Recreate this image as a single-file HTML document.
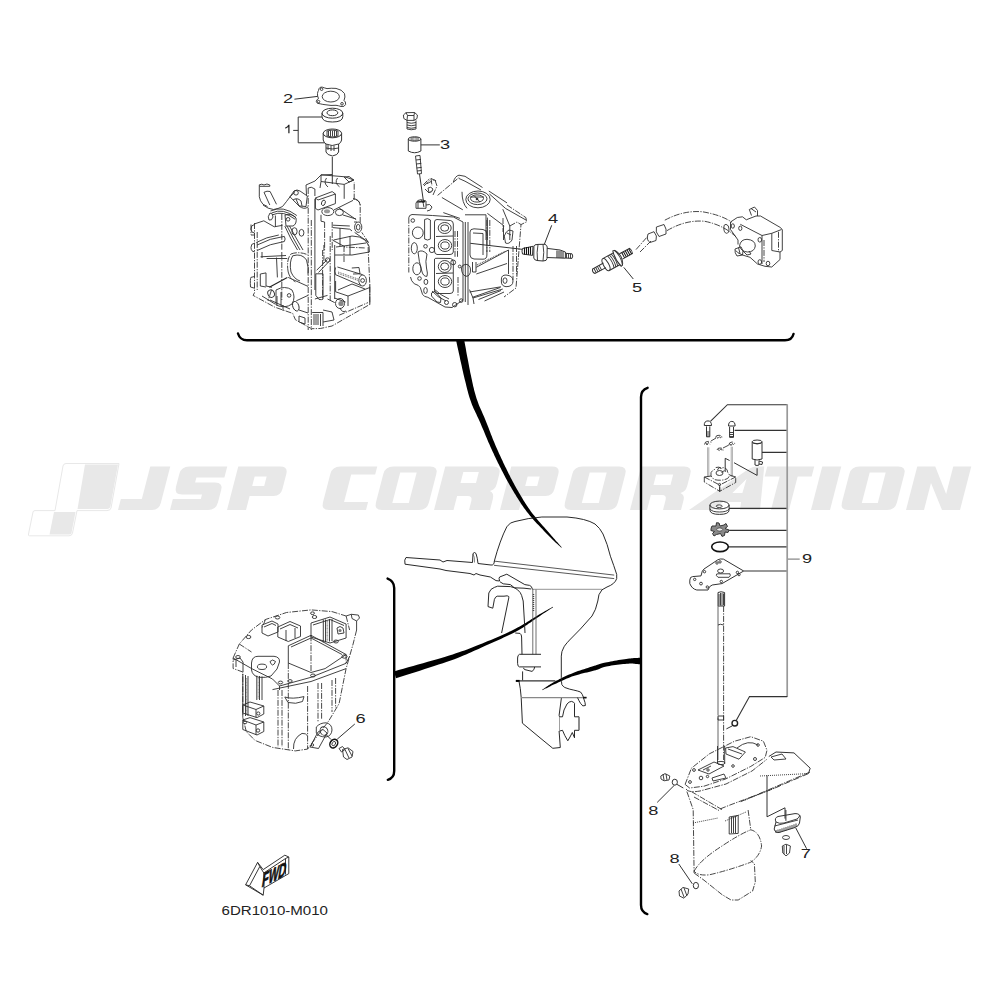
<!DOCTYPE html>
<html><head><meta charset="utf-8">
<style>
html,body{margin:0;padding:0;background:#fff;width:1000px;height:1000px;overflow:hidden}
svg{position:absolute;left:0;top:0;display:block}
.k{fill:none;stroke:#000;stroke-width:2.4;stroke-linecap:round}
.l{fill:none;stroke:#333;stroke-width:1}
.g{fill:none;stroke:#555;stroke-width:0.9}
.d{fill:none;stroke:#333;stroke-width:0.9;stroke-dasharray:6 1.3 1.3 1.3}
.a{fill:none;stroke:#2e2e2e;stroke-width:0.9}
.t{font-family:"Liberation Sans",sans-serif;font-size:13.5px;fill:#222}
.wm{fill:#e8e8e8}
</style></head>
<body>
<svg width="1000" height="1000" viewBox="0 0 1000 1000">
<!-- WATERMARK -->
<g id="wm">
  <path d="M66,463.5 L119,463.5 L111,508 Q110.5,510.6 107,510.6 L77,510.6 L72.5,533 Q72,535.8 69,535.8 L29.5,535.8 Q28,535.8 28.5,534 L33,512 Q33.4,510.6 35,510.6 L55,510.6 L63,466 Q63.6,463.5 66,463.5 Z" fill="none" stroke="#e8e8e8" stroke-width="1"/>
  <path class="wm" d="M85,464.5 L118,464.5 L110.5,506 Q110,509 107,509 L77.5,509 Z"/>
  <path class="wm" d="M54,512 L75.5,512 L71.5,533 Q71,534.5 69,534.5 L49.5,534.5 Z"/>
  <g class="wm" fill-rule="evenodd" transform="matrix(1,0,-0.2586,1,0,510)">
  <path d="M139,-43.5 H159 V-7 Q159,0 152,0 H118 V-11 H139 Z"/>
  <path d="M216,-43.5 H178 Q170,-43.5 170,-36 V-23 Q170,-15.5 178,-15.5 H198 V-11 H170 V0 H208 Q216,0 216,-8 V-20 Q216,-27.5 208,-27.5 H188 V-32.5 H216 Z"/>
  <path d="M227,0 V-43.5 H269 Q277,-43.5 277,-36 V-21 Q277,-14 270,-14 H246 V0 Z M246,-33.5 H258 V-24 H246 Z"/>
  <path d="M366,-43.5 H329 Q321,-43.5 321,-36 V-7.5 Q321,0 329,0 H366 V-8 H342 V-35.5 H366 Z"/>
  <path d="M382,-43.5 H419 Q427,-43.5 427,-36 V-7.5 Q427,0 419,0 H382 Q374,0 374,-7.5 V-36 Q374,-43.5 382,-43.5 Z M390.5,-37.5 H407 V-7 H390.5 Z"/>
  <path d="M434,0 V-43.5 H482 Q490,-43.5 490,-36 V-26 Q490,-20.5 485,-19 Q490,-17 490,-11 V0 H469 V-9 Q469,-14 464,-14 H453.5 V0 Z M453.5,-38 H469 V-27 H453.5 Z"/>
  <path d="M500,0 V-43.5 H541 Q549,-43.5 549,-36 V-21 Q549,-14 542,-14 H519 V0 Z M519,-33.5 H531 V-24 H519 Z"/>
  <path d="M571,-43.5 H608 Q616,-43.5 616,-36 V-7.5 Q616,0 608,0 H571 Q563,0 563,-7.5 V-36 Q563,-43.5 571,-43.5 Z M580,-37.5 H597 V-7 H580 Z"/>
  <path d="M630,0 V-43.5 H673 Q681,-43.5 681,-36 V-24 Q681,-18.5 676,-17 Q681,-15 681,-10 V0 H663 V-10 Q663,-15 658,-15 H647 V0 Z M647,-35.5 H664 V-25 H647 Z"/>
  <path d="M689,0 L738,-41 Q741,-43.5 745,-43.5 H753 L760,0 H740 L739,-8 H721 L712,0 Z M738,-17 L738.5,-31 L728,-17 Z"/>
  <path d="M756,-43.5 H803 V-33.5 H789 V0 H771 V-33.5 H756 Z"/>
  <path d="M811,0 V-43.5 H830 V0 Z"/>
  <path d="M848,-43.5 H887 Q895,-43.5 895,-36 V-7.5 Q895,0 887,0 H848 Q840,0 840,-7.5 V-36 Q840,-43.5 848,-43.5 Z M860,-37.5 H876 V-7 H860 Z"/>
  <path d="M906,0 V-43.5 H924 L942,-16 V-43.5 H960 V0 H942 L924,-27 V0 Z"/>
</g>
</g>
<!-- BIG BRACKETS -->
<path class="k" d="M238,333.5 Q240,340.3 247,340.3 L785,340.3 Q792,340.3 793.5,334"/>
<path class="k" d="M647.6,387.8 Q641,390 641,397 L641,905 Q641,912 647.3,914.1"/>
<path class="k" d="M387.6,578.6 Q394.2,581 394.2,588 L394.2,771 Q394.2,778 387.8,779.8"/>
<!-- tapered connectors -->
<path fill="#000" d="M456.2,340.8 L456.8,343.8 L457.5,346.9 L458.2,350.0 L458.9,353.2 L459.6,356.3 L460.2,359.5 L460.9,362.6 L461.6,365.6 L462.2,368.6 L462.9,371.4 L463.5,374.2 L464.1,376.8 L464.7,379.2 L465.3,381.5 L465.8,383.6 L466.3,385.7 L466.8,387.7 L467.3,389.7 L467.8,391.6 L468.3,393.5 L468.8,395.3 L469.4,397.2 L470.0,399.1 L470.7,401.0 L471.4,403.0 L472.1,404.9 L472.9,406.8 L473.7,408.7 L474.6,410.5 L475.4,412.3 L476.3,414.1 L477.1,415.9 L478.0,417.7 L478.8,419.5 L479.6,421.3 L480.4,423.1 L481.2,425.0 L482.0,426.9 L482.8,428.7 L483.6,430.6 L484.4,432.6 L485.2,434.5 L486.0,436.4 L486.8,438.3 L487.6,440.3 L488.4,442.2 L489.3,444.1 L490.1,446.0 L491.0,447.9 L491.8,449.8 L492.7,451.7 L493.6,453.6 L494.4,455.5 L495.3,457.3 L496.2,459.2 L497.1,461.1 L498.0,463.0 L499.0,464.8 L499.9,466.7 L500.9,468.6 L501.8,470.4 L502.8,472.3 L503.8,474.2 L504.7,476.1 L505.7,477.9 L506.7,479.8 L507.8,481.7 L508.8,483.6 L509.9,485.4 L511.0,487.3 L512.1,489.2 L513.2,491.1 L514.3,492.9 L515.5,494.8 L516.6,496.7 L517.8,498.5 L519.0,500.4 L520.2,502.3 L521.4,504.2 L522.7,506.0 L524.0,507.9 L525.4,509.8 L526.8,511.7 L528.3,513.5 L529.8,515.4 L531.5,517.4 L533.2,519.4 L535.0,521.4 L536.8,523.4 L538.7,525.3 L540.5,527.3 L542.3,529.1 L544.0,530.9 L545.7,532.7 L547.2,534.3 L548.7,535.7 L550.0,537.1 L551.2,538.3 L552.4,539.5 L553.5,540.5 L554.5,541.5 L555.5,542.4 L556.4,543.2 L557.4,544.1 L558.3,545.0 L559.3,545.8 L560.3,546.7 L561.3,547.7 L561.7,547.3 L560.8,546.2 L559.9,545.2 L559.0,544.3 L558.2,543.3 L557.4,542.3 L556.5,541.4 L555.6,540.4 L554.7,539.3 L553.7,538.2 L552.7,537.0 L551.5,535.7 L550.3,534.3 L549.0,532.7 L547.5,531.0 L545.9,529.2 L544.2,527.3 L542.5,525.4 L540.8,523.4 L539.0,521.4 L537.3,519.4 L535.6,517.3 L533.9,515.3 L532.4,513.4 L530.9,511.5 L529.6,509.6 L528.3,507.7 L527.0,505.8 L525.8,504.0 L524.6,502.1 L523.4,500.2 L522.3,498.3 L521.2,496.5 L520.1,494.6 L519.0,492.7 L517.9,490.8 L516.8,488.9 L515.7,487.1 L514.7,485.2 L513.7,483.3 L512.7,481.4 L511.7,479.6 L510.7,477.7 L509.8,475.8 L508.8,473.9 L507.9,472.1 L507.0,470.2 L506.1,468.3 L505.1,466.4 L504.2,464.6 L503.3,462.7 L502.5,460.8 L501.6,459.0 L500.7,457.1 L499.9,455.2 L499.0,453.4 L498.2,451.5 L497.3,449.6 L496.5,447.7 L495.7,445.9 L494.9,444.0 L494.1,442.1 L493.3,440.2 L492.5,438.2 L491.8,436.3 L491.0,434.4 L490.3,432.5 L489.5,430.5 L488.8,428.6 L488.0,426.6 L487.3,424.7 L486.5,422.8 L485.8,420.9 L485.0,419.0 L484.2,417.1 L483.4,415.2 L482.6,413.4 L481.8,411.6 L481.0,409.8 L480.2,408.0 L479.4,406.2 L478.7,404.4 L478.0,402.6 L477.4,400.8 L476.7,399.0 L476.1,397.1 L475.6,395.3 L475.1,393.5 L474.6,391.7 L474.1,389.9 L473.7,388.1 L473.2,386.2 L472.8,384.2 L472.3,382.1 L471.9,380.0 L471.4,377.7 L470.9,375.2 L470.3,372.7 L469.8,370.0 L469.2,367.1 L468.7,364.2 L468.1,361.1 L467.5,358.0 L466.9,354.9 L466.3,351.7 L465.8,348.5 L465.2,345.4 L464.6,342.3 L464.0,339.2 Z"/>
<path fill="#000" d="M396.0,678.2 L400.7,676.8 L405.4,675.2 L410.2,673.7 L415.1,672.2 L419.9,670.7 L424.8,669.1 L429.5,667.6 L434.2,666.1 L438.6,664.6 L442.9,663.2 L447.0,661.8 L450.8,660.5 L454.4,659.2 L457.6,657.9 L460.6,656.7 L463.4,655.6 L466.1,654.5 L468.7,653.3 L471.1,652.2 L473.6,651.1 L476.0,650.0 L478.5,648.9 L481.0,647.8 L483.7,646.6 L486.4,645.3 L489.3,644.1 L492.1,642.8 L495.0,641.5 L497.9,640.2 L500.8,638.9 L503.6,637.6 L506.4,636.3 L509.1,635.0 L511.8,633.7 L514.3,632.5 L516.6,631.2 L518.9,629.9 L521.0,628.7 L523.1,627.4 L525.0,626.1 L526.9,624.9 L528.7,623.6 L530.5,622.4 L532.1,621.2 L533.8,620.1 L535.4,619.0 L536.9,617.9 L538.4,616.9 L539.9,615.9 L541.3,615.0 L542.6,614.1 L543.8,613.3 L545.1,612.5 L546.2,611.8 L547.4,611.0 L548.5,610.3 L549.6,609.6 L550.8,608.8 L552.0,608.0 L553.2,607.3 L552.8,606.7 L551.6,607.5 L550.4,608.2 L549.2,608.8 L548.0,609.5 L546.8,610.2 L545.7,610.8 L544.4,611.5 L543.2,612.3 L541.9,613.0 L540.5,613.8 L539.1,614.6 L537.6,615.5 L536.0,616.5 L534.4,617.5 L532.7,618.5 L531.0,619.6 L529.3,620.7 L527.5,621.8 L525.7,623.0 L523.8,624.1 L521.8,625.3 L519.7,626.5 L517.6,627.6 L515.4,628.8 L513.0,630.0 L510.5,631.2 L507.9,632.4 L505.2,633.7 L502.4,634.9 L499.6,636.2 L496.7,637.4 L493.8,638.7 L490.9,639.9 L488.0,641.1 L485.1,642.3 L482.3,643.4 L479.6,644.5 L477.0,645.6 L474.5,646.6 L472.1,647.5 L469.6,648.5 L467.1,649.4 L464.5,650.4 L461.8,651.3 L459.0,652.3 L455.9,653.3 L452.7,654.4 L449.2,655.5 L445.4,656.7 L441.3,657.9 L437.0,659.2 L432.4,660.5 L427.8,661.8 L423.0,663.2 L418.1,664.6 L413.2,665.9 L408.3,667.3 L403.4,668.7 L398.6,670.0 L394.0,671.4 Z"/>
<path fill="#000" d="M640.5,657.7 L639.5,657.8 L638.6,657.8 L637.7,657.9 L636.8,657.9 L635.8,658.0 L634.9,658.0 L633.9,658.1 L632.8,658.2 L631.7,658.3 L630.5,658.4 L629.2,658.5 L627.8,658.7 L626.2,658.9 L624.5,659.2 L622.6,659.5 L620.7,659.8 L618.6,660.1 L616.6,660.5 L614.5,660.8 L612.5,661.2 L610.6,661.6 L608.8,661.9 L607.1,662.2 L605.6,662.5 L604.3,662.8 L603.2,663.1 L602.2,663.3 L601.3,663.6 L600.5,663.8 L599.7,664.0 L599.0,664.3 L598.3,664.5 L597.5,664.8 L596.6,665.1 L595.6,665.4 L594.3,665.8 L592.9,666.3 L591.3,666.8 L589.6,667.3 L587.8,667.9 L585.9,668.5 L583.9,669.2 L582.0,669.8 L580.0,670.5 L578.0,671.1 L576.1,671.8 L574.2,672.5 L572.5,673.2 L570.8,673.9 L569.1,674.6 L567.4,675.3 L565.8,676.1 L564.2,676.8 L562.6,677.6 L561.0,678.4 L559.5,679.1 L558.1,679.9 L556.6,680.6 L555.3,681.3 L554.0,682.0 L552.8,682.7 L551.6,683.4 L550.6,684.0 L549.6,684.7 L548.6,685.3 L547.7,685.9 L546.8,686.5 L545.9,687.2 L545.0,687.8 L544.1,688.4 L543.2,689.0 L542.3,689.6 L542.5,690.2 L543.6,689.6 L544.6,689.1 L545.5,688.6 L546.5,688.2 L547.5,687.7 L548.4,687.2 L549.4,686.7 L550.4,686.2 L551.5,685.6 L552.6,685.1 L553.7,684.6 L555.0,684.0 L556.3,683.4 L557.7,682.7 L559.1,682.1 L560.6,681.4 L562.1,680.7 L563.7,680.0 L565.3,679.3 L566.9,678.6 L568.5,677.9 L570.2,677.2 L571.8,676.6 L573.5,676.0 L575.3,675.4 L577.1,674.9 L579.0,674.4 L581.0,673.8 L583.0,673.3 L585.0,672.8 L587.0,672.4 L588.9,671.9 L590.8,671.4 L592.5,671.0 L594.2,670.6 L595.7,670.2 L597.0,669.7 L598.1,669.4 L599.0,669.0 L599.9,668.7 L600.6,668.3 L601.3,668.0 L601.9,667.8 L602.6,667.5 L603.3,667.2 L604.2,667.0 L605.2,666.7 L606.4,666.5 L607.9,666.2 L609.5,665.9 L611.3,665.6 L613.2,665.3 L615.2,665.1 L617.2,664.8 L619.3,664.6 L621.3,664.3 L623.2,664.1 L625.0,663.9 L626.7,663.8 L628.2,663.7 L629.6,663.6 L630.8,663.6 L631.9,663.6 L632.9,663.6 L633.9,663.7 L634.8,663.8 L635.7,663.9 L636.6,664.0 L637.5,664.1 L638.5,664.2 L639.5,664.2 L640.5,664.3 Z"/>
<!-- BLOCK A: crankcase (top-left) -->
<g id="blkA">
 <path class="l" d="M332.3,157 V184"/>
 <!-- outer silhouette -->
 <path class="d" d="M254.5,223 V292.7 L253.1,295.4 L274.7,307.1 L292.7,313.4 L295.4,319.7 L311.6,328.7 L320.3,328.5 L332,326 L369.8,304.4 V284.6 L368.2,250 V242 L361.8,232.4 M360.2,222.8 V203.6 Q358,199 353,198.8 M354.2,199.6 V182"/>
 <path class="d" d="M257.2,232 V290 M251,224.5 V235 H254.4"/>
 <path class="a" d="M250.9,277.4 Q250,279 250.5,287 L254.5,288.2 M250.9,277.4 L254.5,276.5"/>
 <!-- top-left fitting -->
 <path class="a" d="M259.3,184.8 Q262,183.5 264,185 Q267,183 269.8,185 L269.8,186.3 H259.3 Z"/>
 <path class="a" d="M259.3,186.3 V196.8 Q260,201 263,204.3 L267.5,206.5 M264,192.3 L269.8,205 M270.1,191.5 L276.5,204.3 M264,192.3 Q267,190.5 270.1,191.5"/>
 <path class="a" d="M263,205 Q268,209 273.5,209.5 Q278,209 282.5,206.5 Q287,201 290,196.8 L294.5,192.3"/>
 <!-- bearing arcs -->
 <path class="a" d="M270.5,211 Q283,205 296.8,215.5 M271.5,213 Q283,207.5 296,217.5 M272.5,214.8 Q283,210 295,219.2"/>
 <path class="a" d="M270,213 Q267,217 269,220 Q272,221 273,217 Q273,213 270,213 Z"/>
 <path class="a" d="M275.4,215.5 V226.8 M254.8,223.8 L263.8,220.8 L274.3,226.8 L282.5,225.3"/>
 <path class="d" d="M281.8,214 V250 M281.8,252 V300"/>
 <path class="a" d="M256.3,242.5 Q266,237 278.8,235"/>
 <circle class="a" cx="288.1" cy="219.3" r="1.8"/>
 <path class="a" d="M285,215 Q292,213 296,218 Q297,224 293,226 L286,226 Z"/>
 <ellipse class="a" cx="294.5" cy="231.3" rx="2.6" ry="3.6"/>
 <ellipse class="a" cx="301.5" cy="232.8" rx="2.4" ry="3.4"/>
 <path class="a" d="M284.8,226 Q290,238 297.5,250 M287,226 Q293,238 300,250 M289.5,226 Q296,238 303,250"/>
 <!-- intake parts top middle -->
 <path class="a" d="M290,196.8 L294,191 Q297,189 300,191 L307.3,196 L306,206.5 L299,206 Z"/>
 <circle class="a" cx="296" cy="192.8" r="2.3"/>
 <path class="a" d="M293,200 Q297,197 301,201 L302,206 M296,199 L299,206"/>
 <path class="a" d="M299,206 Q304,210 308,207"/>
 <path class="a" d="M306,185 L315,181 L321,175 L332,174.5 M306,185 L306.5,195"/>
 <!-- thermostat housing -->
 <path class="a" d="M321,174.8 L345,176.8 L353.8,180 L344.2,184.4 L321,181.5 Z"/>
 <path class="a" d="M326.5,178 Q323,183 328,187 M337.5,178 Q334,183 339.5,186.8"/>
 <path class="a" d="M344.2,177.2 L349,176.5 L353.8,180 L349,182 Z"/>
 <path class="a" d="M344.2,184.4 V198.8 M321,181.5 L320,188"/>
 <!-- tab plate -->
 <path class="a" d="M315.4,198 L332.2,191.6 L335.4,194 V203.6 L318,210 L315.4,208.4 Z"/>
 <ellipse class="a" cx="323.4" cy="202.8" rx="1.8" ry="2.8" transform="rotate(20 323.4 202.8)"/>
 <path class="a" d="M315.4,198 L318,200 L335.4,194"/>
 <ellipse class="a" cx="327.8" cy="211.6" rx="6" ry="4"/>
 <ellipse cx="327" cy="211.2" rx="3" ry="2" fill="#999"/>
 <ellipse class="a" cx="339.4" cy="212.4" rx="4" ry="3.2"/>
 <path class="a" d="M333.8,210 L353,200.4 M338.6,207.6 L356.2,219.6 M343,215 L356,219"/>
 <path class="a" d="M353,198.8 Q359,199 360.2,205"/>
 <ellipse class="a" cx="358.2" cy="227.2" rx="3.6" ry="5.2"/>
 <ellipse class="a" cx="358.2" cy="227.2" rx="1.8" ry="2.8"/>
 <path class="a" d="M354.6,232.4 L368.2,242 M354,222 L357,222"/>
 <path class="a" d="M321,214.8 V221.2 L324.6,222 M333,225.2 L349.8,226 M333,227.6 L349.8,229.2 L352,231"/>
 <path class="a" d="M333,240.4 L345,246.8 M340,228 V246"/>
 <path class="d" d="M324.6,222 V250 M332.2,222 V250"/>
 <!-- crank -->
 <path class="d" d="M308.2,188 V330 M311.3,220 V330"/>
 <path class="a" d="M314.9,199 V290 M308.2,188 Q311,186 314.9,189 V196"/>
 <path class="d" d="M323.9,245 V263"/>
 <path class="a" d="M334.7,245 V299"/>
 <!-- pipe lever -->
 <path class="a" d="M316.7,270.2 L327.5,259.4 M318.5,272.5 L329,261.5"/>
 <circle class="a" cx="327.6" cy="260" r="2.2"/>
 <path class="a" d="M315.8,273.8 H323 V299 Q322,300 319,299.5 L315.8,295.4 Z"/>
 <path class="a" d="M314.9,299 L327.5,295.4 M327.5,299 L334.7,302.6"/>
 <!-- right roller -->
 <path class="a" d="M337.4,267 L362.6,274.7 M335.6,274.7 L360.8,285.5 M335.6,267.5 Q334,271 335.6,274.7"/>
 <ellipse class="a" cx="362.6" cy="280.5" rx="3.8" ry="5.5"/>
 <circle class="a" cx="362.6" cy="280.5" r="1.9"/>
 <path d="M338,272 L358,279 M338,273.5 L358,280.5" stroke="#666" stroke-width="1" stroke-dasharray="1 0.8"/>
 <path class="a" d="M351.8,268 L359,267.5 L360,273.8 L353,274"/>
 <path class="a" d="M335.6,281 V291.8 L348,296 L369.8,287.5 M369.8,284.6 V304.4 M348,296 V306"/>
 <path class="d" d="M339.2,315.2 L368,302.6 M344,262 L344,247 L366,248"/>
 <ellipse class="a" cx="340" cy="303.5" rx="4.5" ry="5"/>
 <circle cx="341" cy="303.5" r="2.6" fill="#888"/>
 <path class="a" d="M334.7,298.1 L345.5,302 M340,308 Q342,313 346,311"/>
 <path class="a" d="M312.2,312.5 L323,312.5 V326 M314,314 V325 M316,314 V325 M318,314 V325 M320.5,314 V326"/>
 <path class="a" d="M323,310 L332,312 L334,320 L323,322"/>
 <!-- lower-left: bore, crank web -->
 <path class="d" d="M290.9,254 Q299,251 308,254.9 M288.2,272 Q286,260 290.9,254 M288.2,272 Q290,279 295.4,281.9"/>
 <path class="a" d="M292.7,255.8 Q302,253 306.5,260 Q309,268 308,274.7 M292.7,255.8 Q289,262 291,272 Q294,279 300,281"/>
 <path class="a" d="M266.6,258.5 H287.3 M276.5,257.6 L277.4,277.4"/>
 <path class="a" d="M260.3,274 L266,272.9 L266,286 L272,287.3 M260.3,274 V286 L266,287"/>
 <path d="M269.3,287.3 L287.3,277.4" stroke="#222" stroke-width="1.1"/>
 <ellipse class="a" cx="271.1" cy="293.6" rx="3.2" ry="3.8" transform="rotate(-25 271.1 293.6)"/>
 <path class="a" d="M276,290 Q285,285 292,290 Q296,297 292,304 Q285,309 276,305 Z"/>
 <circle class="a" cx="289.1" cy="295.4" r="1.8"/>
 <path class="a" d="M277,296 V305 M281,292 V306"/>
 <ellipse class="a" cx="295.8" cy="306.2" rx="3" ry="5" transform="rotate(-20 295.8 306.2)"/>
 <path class="a" d="M288.2,277.4 L308,286.4 M296.3,300.8 L308,295.4 M299,310 L308,313"/>
 <path class="d" d="M271.5,290 L268,301 M283,305 L283,312"/>
 <!-- extra detail -->
 <path class="a" d="M254.5,224.5 Q250.8,225 251,229 Q251,233 254.5,233 M254.5,243.2 Q250.8,243.5 251,247.5 Q251,251.7 254.5,251.7"/>
 <path class="a" d="M257.1,245 Q270,238 284.3,236.4 M257.1,250.5 Q270,243.5 284.3,241.5 M284.3,236.4 Q286,239 284.3,241.5"/>
 <path class="a" d="M260.5,256.8 L286,255.5 M262,252 L262,258"/>
 <path class="a" d="M333.6,240 L352,236 Q360,236 365,240 L369,246 L369.4,252 L352,255 L335,255"/>
 <path class="a" d="M336,247 L366,243 M350,236 V255"/>
 <path class="d" d="M322.6,250 V300 M330.2,236 V300"/>
 <path class="a" d="M338,290 L352,284 L365,289"/>
 <path class="a" d="M270,300 L290,309 M262,296 L275,304"/>
 <path class="a" d="M299,316 L305,318 L305,324 L299,322 Z"/>
</g>
<!-- PART 1/2 thermostat group -->
<g id="p12">
 <path class="a" d="M318.5,90.5 Q319,86.5 322.5,87.2 Q324.5,88 327,88.6 Q331,88 336,88.4 Q342,89.5 344.5,93.5 Q345.6,97 344,100.5 Q346,101.5 345.6,104.5 Q344.5,107.2 341,106.5 Q338.5,105.6 336,105.3 Q331,105.8 326,104.8 Q322.5,104.5 320.2,103.8 Q316.5,104 316.3,101.5 Q316.5,99.5 318.5,98.5 Q317.2,96 317.5,93.5 Q317.8,91.5 318.5,90.5 Z"/>
 <ellipse class="a" cx="330.8" cy="96.6" rx="8.6" ry="5.4"/>
 <circle class="a" cx="321.6" cy="89.2" r="1.3"/><circle class="a" cx="342" cy="103.8" r="1.3"/><circle class="a" cx="318.6" cy="101.6" r="1.2"/>
 <path class="l" d="M294.4,99.2 L317.6,96.4"/>
 <path class="l" d="M322,117 H298.2 V142.8 H324.8 M293.2,130.4 H298.2"/>
 <ellipse class="l" cx="332.4" cy="113.2" rx="10.4" ry="5"/>
 <path class="l" d="M322,113.2 V116.5 Q322,122 332.4,122 Q342.8,122 342.8,116.5 V113.2"/>
 <ellipse class="l" cx="332.4" cy="112.8" rx="5.4" ry="2.9"/>
 <ellipse class="l" cx="332.4" cy="133.4" rx="9.2" ry="4.4"/>
 <path class="l" d="M323.2,133.4 V140 Q324,143 326,144 L326,152 Q327,155 332.4,156 Q338,155 338.6,152 L338.6,144 Q341,143 341.6,140 V133.4"/>
 <path class="a" d="M327,131 L327,136 Q332,138 338,136 V131 Q332,129 327,131 Z M328.5,131 v5 M330.5,130.5 v6 M332.5,130.5 v6 M334.5,130.5 v6 M336.5,131 v5"/>
 <path class="a" d="M326,144 Q332,147 338.6,144 M326,148 Q332,150 338.6,148 M328,144.5 V150 M331,145.5 V151 M334,145.5 V151"/>
</g>
<!-- PART 3 + bolt -->
<g id="p3">
 <path class="a" d="M403.4,115 L406,112.7 L414.5,112.5 L417.4,115 L417,118.5 L414,120.4 L407,120.4 L403.8,118.5 Z M406,112.7 L407.5,115.5 L414,115.5 L414.5,112.5 M407.5,115.5 L407,120.4 M414,115.5 L414,120.4"/>
 <path class="a" d="M407,120.4 V129 Q411,130.5 416,129 V120.4 M407,122.5 Q411,124 416,122.5 M407,125 Q411,126.5 416,125 M407,127.5 Q411,129 416,127.5"/>
 <ellipse class="l" cx="414.6" cy="139" rx="6.3" ry="2.2"/>
 <ellipse class="a" cx="414.6" cy="139" rx="4" ry="1.2"/>
 <path class="l" d="M408.3,139 V151 Q414.6,154.5 420.9,151 V139"/>
 <path class="l" d="M420.9,144.9 H439.8"/>
 <path class="a" d="M415.5,156 L420,155.4 L421.5,173.6 L417.5,174 Z M416,160 l5,-0.6 M416.3,164 l5,-0.6 M416.6,168 l5,-0.6 M417,171 l4.4,-0.5"/>
 <path class="l" d="M419.5,174 L423.7,203"/>
</g>
<!-- BLOCK B: cylinder head -->
<g id="blkB">
 <!-- top bracket/boss near part 3 -->
 <path class="d" d="M424,186 L431,178.5 L436.5,181 M431,178.5 L432,186 M426.8,183.8 L434.8,179.5 L437,186 L433,195 M425,189 L429,193 L433,190"/>
 <path class="a" d="M428,188 Q431,186 433,189 Q432,193 429,192.5 Z"/>
 <path class="d" d="M423.2,185 L426,182 L430,178"/>
 <path class="a" d="M416,203 Q417,199.7 421,199.7 L426,201 L426,208.3 L416,208.3 Z M418,208.3 V203 M421,200 Q424,203 423.9,207"/>
 <path d="M417,202 L425,201.5" stroke="#222" stroke-width="1.6"/>
 <path class="a" d="M426,205 Q430,203 432,207 Q431,211 427,211"/>
 <!-- top rim -->
 <path class="d" d="M437.6,195.4 L459.2,177.4"/>
 <path class="a" d="M453.4,182 Q455,176 459,175.2 L465,176.3 L482.5,187.5 M459,178.5 L465,181.2 L481,190"/>
 <path class="a" d="M488.8,191 L507,202.9 M489.5,194 L505.6,208.5 L526.6,220.4"/>
 <path class="d" d="M507,205 L525.9,217.6 L526.6,221.8 L521,224.6"/>
 <!-- cam cap -->
 <ellipse class="a" cx="478" cy="199.4" rx="12.2" ry="8.4"/>
 <ellipse class="a" cx="477.5" cy="198.8" rx="9.5" ry="5.8"/>
 <ellipse class="a" cx="477" cy="198.5" rx="6.5" ry="3.6"/>
 <circle cx="477" cy="199" r="1.3" fill="#333"/>
 <path class="a" d="M470,197 H484 M474,195.5 L480,202"/>
 <path class="a" d="M462,191.8 Q462,203 467,208.3 M441.9,197.5 L462.8,209.8 M443.3,212.6 L459.9,218.4"/>
 <path class="a" d="M487.4,213.4 L504.2,226 M502.8,209.2 L509.8,226 V240 M487.4,217.6 V240 M503.5,226 V240 M465,214.8 L486,214.8 L486,240"/>
 <!-- front gasket face -->
 <path class="d" d="M408.8,217.7 V272.5"/>
 <path class="a" d="M408.8,217.7 Q409,215 412,214.5 L432.5,215.5 L453.4,217 L463,222 V300 M410.5,277 Q411,281 414.3,283.8 Q419,285 420.3,287.5 L422.5,294.3 Q424,297 427.8,297.3 L445,307 L452,307.5 L463,300"/>
 <path class="a" d="M465.3,222 V302 M468,222 V305" stroke="#666"/>
 
 <!-- chambers -->
 <path class="a" d="M434.5,222 Q434.5,219.5 437,219.5 L450.5,220.5 Q453.3,221 453.3,224 V252 Q453,254.5 450,254.5 L437,254.5 Q434.5,254 434.5,251 Z"/>
 <path class="a" d="M434.5,259 Q434.5,258.3 437,258.3 L450.5,258.5 Q453.3,259 453.3,262 V291 Q453,293.5 450,293.5 L437,293.5 Q434.5,293 434.5,290 Z"/>
 <ellipse class="a" cx="444.7" cy="228" rx="6.5" ry="5.5"/><ellipse class="a" cx="444.7" cy="228" rx="4" ry="3.2"/>
 <ellipse class="a" cx="445" cy="245.5" rx="6.7" ry="6"/><ellipse class="a" cx="445" cy="245.5" rx="4.2" ry="3.6"/>
 <ellipse class="a" cx="444.7" cy="266.5" rx="6.4" ry="6"/><ellipse class="a" cx="444.7" cy="266.5" rx="4" ry="3.6"/>
 <ellipse class="a" cx="445" cy="281.5" rx="6.7" ry="6"/><ellipse class="a" cx="445" cy="281.5" rx="4.2" ry="3.6"/>
 <path class="a" d="M436,236.5 L453,236 M436,273.5 L453,273"/>
 <!-- left holes -->
 <circle class="a" cx="412.8" cy="220.5" r="1.8"/>
 <ellipse class="a" cx="417.8" cy="232.8" rx="5.4" ry="5.8"/>
 <path class="a" d="M424.6,219.5 Q427.5,217.5 430.4,220 V239 Q427.5,241 424.6,239 Z"/>
 <ellipse class="a" cx="414.3" cy="248.2" rx="3" ry="5.6"/>
 <circle class="a" cx="425.5" cy="246.3" r="1.8"/>
 <circle class="a" cx="431.9" cy="250" r="2.6"/>
 <path class="a" d="M418,252 Q422,249 427,254 Q425,262 426.5,268 Q428,274 427,276.3 Q423,277 421.5,270 Q419,262 418,252 Z"/>
 <ellipse class="a" cx="416.9" cy="268.8" rx="4.1" ry="6"/>
 <circle class="a" cx="419.5" cy="278.5" r="1.8"/>
 <ellipse class="a" cx="425.9" cy="281.9" rx="1.9" ry="2.6"/>
 <ellipse class="a" cx="425.5" cy="290.5" rx="1.8" ry="3"/>
 <path class="a" d="M431.5,293 L435,291.3 L441,298 L440.5,302.5 L437,302 L431.5,296 Z"/>
 <path class="a" d="M432,291 Q437,297 446,301 M434,289 Q440,295 449,299"/>
 <circle class="a" cx="446.5" cy="302.5" r="2"/><circle class="a" cx="454.7" cy="304.7" r="2.2"/><circle class="a" cx="461.2" cy="300.6" r="1.8"/>
 <circle class="a" cx="453.2" cy="262.4" r="2.4"/><circle class="a" cx="459.7" cy="266.5" r="1.4"/>
 <path class="a" d="M461.5,268 Q462,264.3 466,264.3 Q470.5,265 470.5,270 Q470.5,276.3 466,276.3 Q461.5,275 461.5,268 Z"/>
 <path class="d" d="M455,231 V258 M457.5,231 V258 M458,277 V296"/>
 <!-- right body -->
 <path class="l" d="M470.3,243.3 L522,249.3" stroke="#444"/>
 <path class="a" d="M470,232 Q470,228.8 474,228.8 L483,229.5 Q486.9,230 486.9,234 V255 Q486.9,259.2 483,259.2 L474,259 Q470,258.5 470,255 Z" stroke="#555"/>
 <path class="a" d="M473,233 L483,233.5 L483,255" stroke="#777"/>
 <path class="d" d="M486.9,220 V252 M489.8,220 V252 M503,218 V232"/>
 <path class="a" d="M504.3,236 Q506,231 509,230 L513,231 L512,240 Q509,244.7 505.5,243 Z M507,233 L511,235" stroke="#444"/>
 <path class="a" d="M476.3,267.3 L508.5,250 M476.3,274 L507,263.5 M508.5,250 V274" stroke="#555"/>
 <path d="M477,265 L506,251" stroke="#555" stroke-width="1.2" stroke-dasharray="1 0.8"/>
 <path class="a" d="M472.5,262 V272 L476,272 V262" stroke="#555"/>
 <path class="a" d="M501.4,279 Q501.4,275 506,275 Q513,275.5 513,281 Q513,286.7 506,286.7 Q501.4,286 501.4,282 Z"/>
 <ellipse class="a" cx="505" cy="280.6" rx="2" ry="2.8"/>
 <path class="a" d="M469.5,292 L501,286.8 M472.5,297.3 L500.3,287.5 M478.5,299.5 L501,290.5 M484.5,301 L504,292" stroke="#444"/>
 <path class="a" d="M469.5,289.6 L473,298 L502.8,289 M473,298 L474,304" stroke="#555"/>
 <path class="d" d="M509.8,226 L517,222 L521,224.6 L519,250 L516,288 L504,297"/>
 <path class="d" d="M513,246 V280 M516.5,246 V276" stroke="#777"/>
</g>
<!-- PART 4 spark plug -->
<g id="p4">
 <path class="l" d="M551.7,225.3 L544.4,244.2"/>
 <path class="l" d="M522.5,248.5 Q521.5,251 522.5,254 L532.5,255.4 L533,246.3 Z"/>
 <path d="M524.5,247.5 v7 M526.5,247 v7.6 M528.5,247 v7.8 M530.5,246.8 v8" stroke="#111" stroke-width="1.1"/>
 <path class="l" d="M533.9,246 Q534,244.5 538,244.4 L545,244.3 Q547.2,245.5 547.2,247 L547,258.5 Q547,261 543,261 L537,260.5 Q534,260 533.8,258 Z"/>
 <path class="a" d="M538,244.6 Q536.5,252 537.5,260.5 M543,244.4 Q544.5,252 543,261"/>
 <path class="l" d="M547.2,248.4 L560,250 L565.4,252 L565.4,258.2 L560,258 L547,257.5"/>
 <path class="l" d="M565.4,253.3 L572,253.8 Q573.5,256 572,258.4 L565.4,258"/>
 <path d="M557,250.5 v7.4 M559,250.7 v7.3 M561,251 v7 M563,251.5 v6.6" stroke="#222" stroke-width="1"/>
 <path d="M566.5,253.6 v4.5 M568.5,253.7 v4.5 M570.5,253.8 v4.5" stroke="#333" stroke-width="0.9"/>
</g>
<!-- PART 5 fuel filter and fuel line/pump -->
<g id="p5">
 <g transform="translate(613.5,260.5) rotate(-28.6)">
  <path class="l" d="M-10,-2.6 H-22.5 Q-24.5,0 -22.5,2.6 H-10"/>
  <path class="a" d="M-21,-2.6 V2.6 M-19,-2.6 V2.6 M-17,-2.6 V2.6 M-15,-2.6 V2.6"/>
  <ellipse class="l" cx="-8.5" cy="0" rx="2.6" ry="6.8"/>
  <path class="l" d="M-8.5,-6.8 H4 M-8.5,6.8 H4"/>
  <path class="a" d="M-3,-6.8 Q-1,0 -3,6.8 M-1,-6.8 Q1,0 -1,6.8 M1,-6.8 Q3,0 1,6.8"/>
  <path class="l" d="M4,-8.8 Q7.5,-8.8 8.5,0 Q7.5,8.8 4,8.8 Q1.5,0 4,-8.8 Z"/>
  <path class="a" d="M5.5,-8.8 Q9,0 5.5,8.8"/>
  <path class="l" d="M8.5,-3 H20 Q21.5,0 20,3 H8.5"/>
  <path d="M11,-3 V3 M13,-3 V3 M15,-3 V3 M17,-3 V3 M19,-3 V3" stroke="#111" stroke-width="1"/>
 </g>
 <path class="l" d="M623.8,267.4 L633.3,279"/>
 <path class="d" d="M636,249.6 L648,236 M640,252 L651,241"/>
 <path class="a" d="M648,234 L654,231.7 L656.4,236 L656,240.5 L650,242.5 Q646,240 648,234 Z"/>
 <path class="a" d="M656.4,227 L664,224.5 Q667,229 666,234 L659,236.5 Q655,232 656.4,227 Z"/>
 <path class="d" d="M664.8,220.2 Q683.7,210 702.6,211.8 Q721.5,215 732,222.3 M666.9,230.7 Q685.8,219.5 704.7,221.3 Q723.6,225 736.2,237"/>
 <path class="a" d="M723.8,228 Q723.5,224.3 726,224.3 Q729,225 729,229 Q729,233.3 726.5,233.3 Q724,233 723.8,228 Z"/>
 <path class="a" d="M730.5,222 L737.3,217.5 L742.5,216.8 L746.3,219.8 L750,218.3 L756,216 L760.5,216 L780,227.3 L782.3,229.5 L782.3,250.5 L780,252 L780,259.5 L771.8,267 L765,266.3 L757.5,264 L750,257.3 L742.5,255 L738,252.8 L735.8,250.5 M738,244.5 L738,240 L730.5,229.5 L730.5,222"/>
 <path class="a" d="M749.3,209.5 L754.5,207 L757.5,210.5 L757.5,216 M749.3,209.5 L751.5,215.5 M751,208.5 L756,212" stroke="#444"/>
 <path class="a" d="M740.3,224.3 L762,235.5 L771.8,233.3 L781.5,229.5 M762,235.5 V264 M771.8,233.3 V250.5 L780,252" stroke="#444"/>
 <path class="d" d="M778.5,231.8 V252 M764,240 V262" stroke="#666"/>
 <ellipse class="a" cx="759.8" cy="239.8" rx="1.8" ry="2.3"/>
 <ellipse class="a" cx="759.8" cy="262" rx="1.8" ry="2.3"/>
 <ellipse class="a" cx="768" cy="263.5" rx="1.8" ry="2.3"/>
 <ellipse class="a" cx="732.8" cy="226" rx="1.6" ry="2.2"/>
 <ellipse class="a" cx="740.3" cy="228.3" rx="1.6" ry="2.2"/>
 <path class="a" d="M739.5,246 Q740.5,239.3 747,239.3 Q755.3,240 755.3,246 Q754.5,252 747.5,252 Q741,251.5 739.5,246 Z"/>
 <path class="a" d="M735,249 L741,246.8 L743,251 L742.5,255 L737,256 Q734.5,253 735,249 Z M738.5,247.5 l1.5,6" stroke="#333"/>
 <path class="a" d="M743,251 L747,255 L751,254 L749,251"/>
</g>
<!-- OUTBOARD MOTOR (center) -->
<g id="motor" fill="none" stroke="#1e1e1e" stroke-width="0.95" stroke-linejoin="round">
 <!-- cowl -->
 <path d="M494.2,561.5 Q500,540 506.8,526.8 Q510,522 515,521.5 Q528,518 541.8,517 L567,517 Q586,518.5 595,524 Q600,528 603,534 Q607.5,544 610.4,556.2 Q614,566 616.7,574.4 L616.7,578.6"/>
 <path d="M494,561.1 L614.2,575.1 M494,565.3 L614.2,578.6" stroke="#3a3a3a" stroke-width="0.85"/>
 <path d="M616.7,578.6 Q615,584 607,587 L602,589.8 Q598,594 597.8,601 Q596,610 592,616 Q580,630 569.6,640 Q564,646 563.5,648 Q561.5,651 561.3,656.1 L561.3,677.7 Q561.5,682 561.8,684.5 Q563,686.5 564.8,687.5 Q570,689.5 573.8,690.1 Q578,691 580.5,692 Q582.5,694 583.5,697.6"/>
 <path d="M532,589.3 H602" stroke="#777" stroke-width="0.8"/>
 <!-- tiller -->
 <path d="M494.4,561.3 Q494,565.5 491,565 L478,563.5 Q477.5,558 476,553.5 Q474.5,551.5 473,553.5 L472.5,562.5 L447,560.5 L443,562 L440,560 L406,557.5 Q404,559.5 405,564.2 L440,569 L446,570.5 L470,573.5 L474,575 L476,573.5 L480,575 L490.4,577 L496,580.6 L499.6,581"/>
 <path d="M473,554 Q475,557 474.5,562.5" stroke="#555" stroke-width="0.7"/>
 <!-- steering arm tab -->
 <path d="M499.6,581 Q498.5,578 499.6,577 L506.8,574.2 L524.8,584.6 L529.6,585.4 Q532,586.5 532,588.2 L532.8,589.5"/>
 <path d="M500,581.8 L503.2,583.8 L510.4,584.6 L514.4,587.8 L524,588.2 L531.2,589"/>
 <!-- steering shaft double lines -->
 <path d="M532.8,589.5 V654.3 M536,589.5 V654.3" stroke="#555" stroke-width="0.85"/>
 <path d="M533.5,594 V612" stroke="#444" stroke-width="1.4" stroke-dasharray="1 1"/>
 <!-- swivel bracket hook -->
 <path d="M488,606.6 L488.8,593 Q490.5,588.5 494.4,587.4 L497.6,586.2 L510.4,586.6 Q515.5,587.5 517.6,589.8 Q520.8,592.5 521.6,595.4 L523.2,601 L524.4,621 L525,633"/>
 <path d="M488,606.6 L492.8,608.2 L494.4,599.4 Q495.5,596.5 497.2,596.2 L504,596.2 L507.2,595.8 Q509.5,596.2 508.8,597.8 L501.6,633"/>
 <path d="M515.2,633 L520,633.4 Q521.6,634.5 521.6,637 L522,654.3"/>
 <!-- clamp block -->
 <path d="M541,654.3 H519.5 Q517.6,655 517.6,658 V663.5 Q517.6,666.5 519.5,666.9 H541"/>
 <path d="M523.5,667.8 Q524,669.6 524.8,669.6 L532,671.4 Q534.5,670 534.7,666.9"/>
 <path d="M522.6,671.4 V680.4"/>
 <!-- cavitation plate, lower unit -->
 <path d="M516.3,680.9 H555.4" stroke="#333" stroke-width="1.1"/>
 <path d="M515.8,680.9 H519.6" stroke="#000" stroke-width="2"/>
 <path d="M519,681.3 Q520.5,688 521.2,697.5 L522.4,723.2 L540,737.8 L552.8,748.3 L560.3,747.5 L559.1,731 M559.5,716.8 L559.1,715.3 L561.4,698"/>
 <path d="M521,697.6 H586.5" stroke="#888" stroke-width="1.3"/>
 <path d="M583,697.6 H586.5" stroke="#111" stroke-width="1.6"/>
 <path d="M577.5,697.6 Q579,701 580.5,703.3 L582.8,705.9 L585.4,705.5 L585,702.5 L583.5,698"/>
 <!-- propeller -->
 <path d="M559.5,716.8 L562.5,716.8 L564,710 L567,704 Q569,701.5 571.5,701.4 Q574,702 574.5,703.3 L574.5,716.8 L579,716.8 V730.3 L574.5,730.3 L574.5,737.8 L572.3,732.5 L570,737 L567.8,740.8 L564.8,735.5 L562.5,730.3 L559.5,731"/>
 <path d="M559.5,717 V731" stroke="#888" stroke-width="0.8"/>
 <path d="M579,717 V730" stroke="#888" stroke-width="1.2"/>
</g>
<!-- RIGHT: water pump parts + lower unit -->
<g id="rF">
 <!-- bracket 9 lines -->
 <path d="M710.4,421.4 L727.4,404.7 H787.2" fill="none" stroke="#333" stroke-width="1.1"/>
 <path d="M787.2,404.2 V697" fill="none" stroke="#999" stroke-width="1.7"/>
 <path d="M787.2,696.6 H749.5 L736.2,720.4" fill="none" stroke="#333" stroke-width="1.1"/>
 <path d="M734.6,430.4 H786.5 M762,452.4 H786.5 M729.1,508.4 H786.5 M729.1,530.4 H786.5 M728.5,546.9 H786.5 M743.7,571 H786.5" fill="none" stroke="#333" stroke-width="1.1"/>
 <path d="M788,559.1 H799.7" fill="none" stroke="#777" stroke-width="1.1"/>
 <!-- bolts -->
 <path class="l" d="M704.3,425.5 Q704,421 708,420.9 Q711.5,421 711.5,425.5 Z M706.5,426.4 V436.8 H709.8 V426.4"/>
 <path class="a" d="M706.5,432 H709.8 M706.5,434 H709.8 M706.5,436 H709.8" stroke="#111"/>
 <path class="l" d="M728.5,426 Q728.5,421.4 731.8,421.4 Q735.1,421.4 735.1,426 Z M729.6,426.9 V437.4 H733.5 V426.9"/>
 <path class="a" d="M729.6,432.5 H733.5 M729.6,434.5 H733.5 M729.6,436.5 H733.5" stroke="#111"/>
 <!-- washers -->
 <path class="d" d="M704.5,444.5 Q705,441 708,441.5 Q711,441 711.5,443.5 M706,443 l1,2 l1.5,-2.5 l1.5,2" stroke="#666" stroke-width="0.8"/>
 <path class="d" d="M715.5,437.5 Q716,435 719,435.3 Q722,435.5 721.8,437.5 M716.5,437 l1.5,1.3 l1.5,-1.5 l1.5,1.3" stroke="#666" stroke-width="0.8"/>
 <path class="d" d="M728.7,445.5 Q729,442 732,442 Q735,442.3 735,445 M730,444 l1,1.5 l1.5,-2 l1.5,1.8" stroke="#666" stroke-width="0.8"/>
 <path class="d" d="M717,450 Q717.5,447.8 720,448 Q723,448 723,450.5 M718,449.5 l1.3,1 l1.4,-1.4 l1.3,1" stroke="#666" stroke-width="0.8"/>
 <path class="d" d="M711,441 L716,438 M723,448 L729,445"/>
 <path d="M707.6,447.3 V477 M708.8,447.3 V477 M731.2,446.7 V477 M732.4,446.7 V477" stroke="#999" stroke-width="0.8"/>
 <!-- cylinder / sleeve -->
 <ellipse class="l" cx="757.1" cy="441.8" rx="4.9" ry="1.8"/>
 <path class="l" d="M752.2,441.8 V459 Q757,461 762,459 V441.8"/>
 <path class="a" d="M753,443 Q757,445 761.5,443" stroke="#111" stroke-width="1.3"/>
 <path class="l" d="M755,459.5 V465 Q757,466 759,465 V460.5 M759,461 L762.6,462 L762,464.5 L759,464"/>
 <!-- Z leader -->
 <path class="l" d="M725.2,472 V458.3 L729.6,460.5 M734,462.7 L757.1,475.4 V468.2" stroke="#444"/>
 <!-- pump housing -->
 <path class="d" d="M704.3,477 L704.3,482 L719.7,491.3 L735.7,482.5 L735.7,477 M704.3,477 L719.7,485 L735.7,477 M719.7,485 V491.3" stroke="#555"/>
 <path class="d" d="M711,476 Q710,471 714,470 L716,467.5 Q719,466.5 721,468 L724,467.6 Q728,469 727.5,472 L729.5,475 Q729,479 725,479.5 Q720,481 714,479.5 Z" stroke="#555"/>
 <path class="a" d="M716,473 Q716,470.5 719.5,470.5 Q723,470.5 723,473 Q723,475.5 719.5,475.5 Q716,475.5 716,473 Z M717.5,470 l1.5,-2.5 l2.5,1 M721.5,472.5 l3,-2" stroke="#666" stroke-width="0.8"/>
 <path class="a" d="M704.3,477 L711,476 M735.7,477 L729.5,475" stroke="#666"/>
 <circle class="a" cx="719.5" cy="484.5" r="1.1" stroke="#666"/>
 <path class="d" d="M719.7,487 V492" stroke="#666"/>
 <!-- insert cup -->
 <ellipse class="l" cx="719.5" cy="505" rx="9.6" ry="3.9"/>
 <path class="l" d="M709.9,505 V510 Q710,514.4 719.5,514.4 Q729,514.4 729.1,510 V505"/>
 <path class="a" d="M709.9,509 Q712,512 719.5,512 Q727,512 729.1,509"/>
 <ellipse class="a" cx="719.2" cy="506.2" rx="3" ry="1.3"/>
 <!-- impeller -->
 <path class="l" style="fill:#888" d="M712,526 L716,526 L716.5,522.7 L719,523 L720,526 L724,525 L726,523.5 L727.5,526.5 L725,528.5 L729.1,530 L728,532.5 L725,532 L724.5,535.5 L722,536.4 L720.5,533.5 L716.5,534.5 L714,536 L712.5,533.5 L714.5,531.5 L710.9,530.5 L711.2,528 Z"/>
 <ellipse cx="719.7" cy="529.5" rx="3" ry="1.6" fill="#eee" stroke="#333" stroke-width="0.7"/>
 <!-- O-ring -->
 <ellipse cx="720" cy="546.8" rx="8.3" ry="4.8" fill="none" stroke="#111" stroke-width="1.6"/>
 <!-- outer plate -->
 <path class="l" d="M689.8,580.1 Q690,576.6 692.6,576.6 L701,575.9 Q702,570 704,569 L717.8,559.8 Q720,558.5 723.4,559.1 L743.7,571 L722,583.6 L712.2,585 Q709,586 708,590 L696.8,590 Q692,589 689.8,583.6 Z"/>
 <ellipse class="a" cx="720.6" cy="571" rx="3" ry="2"/>
 <path class="a" d="M716.4,575.5 Q716,573.5 718,573.8 L730,573.8 Q731,576 729,577.3 L718,577.3 Z"/>
 <circle class="a" cx="704.5" cy="571.7" r="1.2"/><circle class="a" cx="694.7" cy="579.4" r="1.2"/><circle class="a" cx="701" cy="583.6" r="1.4"/><circle class="a" cx="707.3" cy="587" r="1.2"/><circle class="a" cx="721.3" cy="581.5" r="1.2"/><circle class="a" cx="737.4" cy="572.4" r="1.2"/><circle class="a" cx="739" cy="574.6" r="1.2"/><circle class="a" cx="720" cy="561.9" r="1.2"/><circle class="a" cx="717" cy="563" r="1.2"/>
 <!-- driveshaft -->
 <path class="l" d="M718,592.5 Q721,591 724.6,592.5 V606 H718 Z" stroke="#555"/>
 <path class="a" d="M719,594 V605 M720.5,593 V605.5 M722,593 V605.5 M723.5,593.5 V605" stroke="#888"/>
 <path class="g" d="M718,606 V715.5 M718,717.5 V760" stroke="#777"/>
 <path class="d" d="M723.6,606 V760" stroke="#888"/>
 <path class="a" d="M718,625 Q720,623.5 723.6,625"/>
 <path class="a" d="M718,716 H723.6 V720 H718 Z"/>
 <!-- small seal and line -->
 <circle cx="734.8" cy="723.2" r="2.8" fill="none" stroke="#222" stroke-width="1.4"/>
 <path class="l" d="M726.4,728.9 L732,726"/>
 <!-- lower case top plate -->
 <path class="d" d="M685.1,784.4 L691.4,768.2 L709.4,753.8 L734.6,741.2 L750.8,736.7 L763.4,741.2 L767,750.2 L765.2,757.4 L750.8,766.4 L725.6,779 L704,786.2 L689.6,788 Z"/>
 <path class="d" d="M686,789 Q688,793 700,791 L726,784 L752,771 L767,759.2"/>
 <path class="a" d="M717.5,746 V763.7 M724.7,746 V763.7" stroke="#444"/>
 <ellipse class="a" cx="721" cy="763" rx="4" ry="1.6"/>
 <path class="a" d="M725.6,748 L733,746.6 L745.4,752 L739,759.2 L726,754 Z M728,749 L742,754"/>
 <path class="a" d="M698,770 l16,-8 l10,4 l-15,8 Z M703,770 l8,-4 M737,748 Q748,739 758,745"/>
 <circle class="a" cx="694" cy="770" r="1.4"/><circle class="a" cx="701" cy="778" r="1.8"/><circle class="a" cx="708" cy="770" r="1.2"/><circle class="a" cx="733" cy="766" r="1.3"/><circle class="a" cx="755" cy="759" r="1.5"/><circle class="a" cx="758" cy="745" r="1.3"/><circle class="a" cx="690" cy="782" r="1.4"/><circle class="a" cx="707.5" cy="776.5" r="1.2"/>
 <path class="a" d="M712,778 L724,774 L726,778 L713,781 Z"/>
 <!-- trim fin -->
 <path class="l" d="M768.8,756.5 L776,752 L794,752.9 L810.2,768.2 L808.4,773.6" stroke="#555"/>
 <path class="a" d="M771,757 L782,754 L786,759 L774,760 Z"/>
 <path class="d" d="M808.4,773.6 L770,790 L730,805 L720,809 M691.4,791.6 L722,809.6 M694,797 L720,811 M810,772 L740,802"/>
 <path class="a" d="M760,776 L808,773.6 M745,800 L780,786" stroke="#444" stroke-width="1.4" stroke-dasharray="1 1"/>
 <!-- lower body -->
 <path class="d" d="M686.9,791.6 L693.2,809.6 L694.1,873"/>
 <path class="d" d="M748.1,810 L750.8,829.8 M694.1,873 L704,880.2 L722,894.6 L731,900 L738.2,900 L752.6,891 L755.3,882 L754.4,864 L750.8,860.4"/>
 <path class="d" d="M694.1,871.2 Q700,860 722,846 Q740,834 750.8,829.8 Q760,832 761.6,846 Q760,856 750.8,862.2 Q730,870 709.4,874.8 Q698,876 694.1,871.2 Z"/>
 <path class="a" d="M729.2,817 L738.2,815.4 L738.2,833.4 L729.2,834 Z M731.5,817 V833 M733.5,816.5 V833 M735.5,816 V833"/>
 <path class="a" d="M725,821 L746,812 M693,823 L718,818" stroke="#444" stroke-width="1.3" stroke-dasharray="1 1"/>
 <!-- anode & leader 7 -->
 <path class="l" d="M767,775.4 V816.8 L785,807.8 V818.6 M785.9,810 V820.8" stroke="#444"/>
 <path class="l" d="M776,822 Q774,818 778,816.5 L795,813.6 Q800,813.5 800.3,817 L799.5,823 Q799,826 795,827.5 L779,832.5 Q775,833 774.2,829 Z"/>
 <path class="a" d="M776,822 Q779,824 784,823 L797,819 Q800,817 799.5,815 M774.5,826 L798,820" stroke="#333"/>
 <path class="a" d="M776,830 l0,3 M778,829.5 v3.5 M780,829 v3.5 M782,828.3 v3.5 M784,827.6 v3.5 M786,827 v3.5 M788,826.3 v3.5 M790,825.6 v3.5 M792,825 v3.5 M794,824.3 v3.5 M796,823.5 v3.5" stroke="#222"/>
 <path class="l" d="M795.8,828 L806.6,848.7"/>
 <ellipse class="a" cx="786" cy="837.5" rx="3.5" ry="2"/>
 <path class="a" d="M782.3,846 L786,844.2 L790.4,846 L789.5,853 L786,855.9 L782.8,853 Z M784,846 v8 M786.5,845 v9"/>
 <!-- 8 bolts/washers -->
 <path class="a" d="M660.8,776 L665,773.6 L669.8,776 L669,780 L664,780.8 L661,779 Z M663,774 l1,6 M666,774 l1,6"/>
 <ellipse class="l" cx="674.8" cy="782.2" rx="2.6" ry="3"/>
 <path class="l" d="M674.3,785.3 L657.2,802.4 M677,784.4 L683.3,788"/>
 <path class="l" d="M678.8,864 L692.3,883.8"/>
 <ellipse class="l" cx="695.9" cy="885.6" rx="2.6" ry="3.2"/>
 <path class="a" d="M679,891 L683,887.4 L688.7,889 L688,894 L684,898.2 L679.5,896 Z M681,889 l3,8 M684,888 l3,8"/>
</g>
<!-- BLOCK E: upper casing (left) -->
<g id="blkE">
 <!-- outer silhouette -->
 <path class="d" d="M233.1,658 L239.3,644 L251.5,630 L265.5,619.5 L286.5,612.5 L311,609.9 L332,611.6 L346.1,616"/>
 <path class="a" d="M346.1,616 L351.3,614.3 L358.4,615.1 L359.5,618 L356.6,621 M351.3,614.3 L352,618.5 L356.6,621 M356.6,621 L356.6,630"/>
 <path class="d" d="M356.6,630 L353.1,644 L349.6,656.3 L346.1,668.6 L342.6,686 L339.1,703.6 L328.6,721.1 L318,735 L307.6,749.1 L295.3,750.9 L272.5,747.4 L255,740.4 L246.3,731.6 L242.8,717.6 V672 L233.1,668.5 V658"/>
 <!-- flange: top surface ring -->
 <path class="d" d="M239.3,644 L251.5,652 M265.5,619.5 L262,628 M346.1,616 L349.6,630"/>
 <path class="a" d="M233.1,658 L251.5,668.5 L272.5,679 L279.5,686 L311,677.3 L346.1,663.3 L349.6,656.3"/>
 <path class="a" d="M272.5,689.6 L311,681.5 L346.1,668.6 M279.5,686 L279.5,690"/>
 <!-- big opening (frame inner) -->
 <path class="a" d="M288.3,645.8 L311,635.3 L346.1,654.5 L325.1,668.6 L311,672.5 L288.3,663 Z"/>
 <path class="a" d="M291,647 L311,638 L342,654.5"/>
 <!-- upper-left openings -->
 <path class="a" d="M262,625 L272,621 L278,624 L278,632 L268,636 L262,633 Z M264,627 L272,623.5 L276,625.5"/>
 <path class="a" d="M277.8,627 L290,621.5 L300.5,626 L300.5,636.5 L288.3,641.5 L277.8,637 Z M280,629 L290,624.5 L298,628"/>
 <path class="a" d="M286,630 V641 M295,628 V638"/>
 <!-- upper-right opening with rods -->
 <path class="a" d="M311,623 L330,617 L346.1,624 L346.1,638 L330,643 L311,637 Z M313,625 L330,619.5 L344,625.5"/>
 <path class="a" d="M323.3,619.5 V642.3 M325.5,619.5 V642.3 M329.5,619 V641.5 M332,619 V641"/>
 <path d="M327.3,621 V641" stroke="#888" stroke-width="1.8" stroke-dasharray="0.8 0.6"/>
 <path class="a" d="M337,628 Q340,625 343,628 L344,633 L338,634 Z"/>
 <circle cx="340" cy="630.5" r="1.6" style="fill:#777"/>
 <!-- holes on flange -->
 <ellipse class="a" cx="277.5" cy="617.5" rx="2.3" ry="1.5"/>
 <ellipse class="a" cx="314.5" cy="617" rx="2.3" ry="1.5"/>
 <ellipse class="a" cx="312.5" cy="613.2" rx="2" ry="1.3"/>
 <ellipse class="a" cx="248.5" cy="637" rx="2.4" ry="1.6"/>
 <ellipse class="a" cx="238" cy="657" rx="2.3" ry="1.5"/>
 <ellipse class="a" cx="336" cy="641.5" rx="2.3" ry="1.5"/>
 <ellipse class="a" cx="344.5" cy="656.5" rx="2.6" ry="1.7"/>
 <ellipse class="a" cx="313" cy="675.5" rx="2.4" ry="1.5"/>
 <ellipse class="a" cx="290" cy="681" rx="2.2" ry="1.4"/>
 <ellipse class="a" cx="280.5" cy="682.5" rx="2.2" ry="1.4"/>
 <!-- front-left boss -->
 <path class="a" d="M251.5,663 Q252,656.3 258,656.3 L274,656.3 Q280,657 279.5,662 L277,669 L271,676 Q266,678 259,677.3 Q252.5,676 251.5,670 Z"/>
 <ellipse class="a" cx="262" cy="666.8" rx="4.6" ry="2.7"/>
 <path class="a" d="M270,661.5 Q272.5,658.5 275.5,661.5 Q274.5,664.8 272.5,665 Q270.5,664 270,661.5 Z"/>
 <!-- left edge boxes -->
 <path class="a" d="M233.1,660 L240,658 L243,662 L243,672 M236,660 V667"/>
 <path class="a" d="M242.8,674 V716 M245.5,675 V716 M248,676 V716" stroke="#444"/>
 <path d="M246.8,678 V715" stroke="#888" stroke-width="1.6" stroke-dasharray="0.8 0.6"/>
 <path class="a" d="M242.8,705 L250,702 L263.8,706 L263.8,714 L257,717.6 L242.8,713 Z M242.8,705 L256,709.5 L263.8,706 M256,709.5 V717.6"/>
 <circle class="a" cx="258.3" cy="713.5" r="1.6"/>
 <path class="a" d="M242.8,720 L250,717.6 L263.8,722 L263.8,731.5 L257,735 L242.8,729.5 Z M242.8,720 L256,725 L263.8,722 M256,725 V735"/>
 <circle class="a" cx="258" cy="730.5" r="1.7"/>
 <ellipse class="a" cx="245" cy="722.5" rx="1.7" ry="1.3"/>
 <!-- vertical walls -->
 <path class="a" d="M256.8,675.6 V700 M259.5,676 V700 M262,676.5 V700"/>
 <path d="M258.2,678 V699" stroke="#999" stroke-width="1.5" stroke-dasharray="0.8 0.6"/>
 <path class="d" d="M278,690 V747 M282,690 V747 M288.3,663 V750 M307.6,686 V749 M318,683 V722 M321.6,683 V720 M332,680 V712 M335.6,678 V708"/>
 <path class="d" d="M311,635.3 V672 M346.1,654.5 V663"/>
 <!-- slot -->
 <path class="a" d="M284.8,697 Q292,699.5 304,696.6 L302.5,701.5 Q296,704.5 288,702.5 Z"/>
 <!-- arc near bottom -->
 <path class="a" d="M293.5,749 Q293,738 302,733.4 Q306,733 307.6,736"/>
 <!-- drain boss and plug -->
 <path class="a" d="M316.3,727 Q320,722.8 326,722.8 Q332,724 332,730 Q331.5,736 326,737 Q319,737 316.3,733 Z"/>
 <ellipse class="a" cx="324" cy="731" rx="3.8" ry="4.4" transform="rotate(-25 324 731)"/>
 <path class="a" d="M310,747 L318,732 L323,729.5 L327,733 L318.5,748.5 Z"/>
 <circle class="a" cx="312.5" cy="745" r="1.2"/>
 <path class="l" d="M326,734.5 L331,739.5"/>
 <ellipse cx="333.8" cy="743.6" rx="3.6" ry="4.6" transform="rotate(35 333.8 743.6)" fill="none" stroke="#111" stroke-width="1.5"/>
 <ellipse class="a" cx="333.8" cy="743.6" rx="1.6" ry="2.3" transform="rotate(35 333.8 743.6)"/>
 <path class="a" d="M339,748.5 L342.5,746.5 L345,749.5 L341.5,752 Z M342.5,749.5 L348,747.8 L353,751.5 L352,757 L347,759.5 L343.5,757 Z M345,749.5 L349,758 M348,748.5 L352,756" stroke="#555"/>
 <path class="l" d="M354.8,724 L337.2,739.2"/>
</g>
<!-- FWD arrow -->
<g id="fwd" fill="none" stroke="#222" stroke-width="0.9" stroke-linejoin="round">
 <path d="M245.6,884.8 L257.6,862.4 L263.2,869.6 L284.8,855.2 L288.8,857 L288.8,873.6 L264,888 L263.2,895.2 Z" fill="#fff"/>
 <path d="M245.6,884.8 L249.5,885.8 L259.8,866.5 L257.6,862.4 M249.5,885.8 L263.2,895.2 M259.8,866.5 L263.8,873 L285.5,858.5 L288.8,857 M285.5,858.5 L285.5,874.5 M263.8,873 L264,888"/>
 <text x="0" y="0" transform="translate(261.2,887.6) skewY(-27) skewX(-10) scale(0.57,1.02)" font-family="Liberation Sans" font-weight="bold" font-size="18.5" fill="#111" stroke="#111" stroke-width="0.7">FWD</text>
</g>
<!-- LABELS -->
<g class="t">
<text transform="translate(283.1,102.8) scale(1.35,1)">2</text>
<text transform="translate(439.9,149.1) scale(1.35,1)">3</text>
<text transform="translate(548.0,223.2) scale(1.35,1)">4</text>
<text transform="translate(632.0,291.6) scale(1.35,1)">5</text>
<text transform="translate(355.6,722.8) scale(1.35,1)">6</text>
<text transform="translate(801.9,563.3) scale(1.35,1)">9</text>
<text transform="translate(648.2,814.5) scale(1.35,1)">8</text>
<text transform="translate(669.4,863.1) scale(1.35,1)">8</text>
<text transform="translate(800.8,857.7) scale(1.35,1)">7</text>
<text x="221.6" y="915.3" style="font-size:13.4px" textLength="106.4" lengthAdjust="spacingAndGlyphs">6DR1010-M010</text>
</g>
<path d="M288.9,124.8 V133.2 M288.9,125 Q288,127.3 285.3,128.2" fill="none" stroke="#222" stroke-width="1.25"/>

</svg>
</body></html>
